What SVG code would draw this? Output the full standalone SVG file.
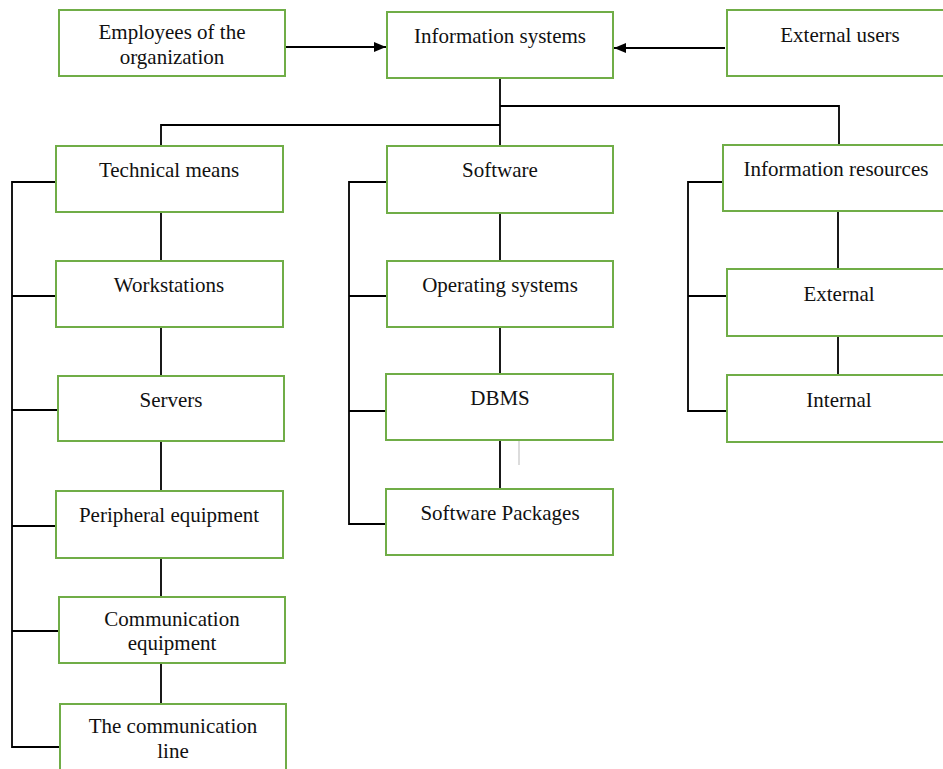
<svg xmlns="http://www.w3.org/2000/svg" width="943" height="769" viewBox="0 0 943 769">
<style>
.box rect{fill:#fff;stroke:#70AD47;stroke-width:2}
.box text{font-family:"Liberation Serif","Times New Roman",serif;font-size:21px;fill:#111;text-anchor:middle}
.ln{stroke:#000;stroke-width:1.8;fill:none}
</style>
<defs>
<marker id="ah" markerWidth="12" markerHeight="10" refX="12" refY="5" orient="auto" markerUnits="userSpaceOnUse">
<path d="M0,0 L12,5 L0,10 Z" fill="#000"/>
</marker>
</defs>
<rect width="943" height="769" fill="#fff"/>
<g id="connectors">
<line class="ln" x1="286" y1="47" x2="386" y2="47" marker-end="url(#ah)"/>
<line class="ln" x1="725" y1="48" x2="614" y2="48" marker-end="url(#ah)"/>
<polyline class="ln" points="500,78 500,146"/>
<polyline class="ln" points="500,125 161,125 161,146"/>
<polyline class="ln" points="500,106 839,106 839,145"/>
<polyline class="ln" points="56,182 12,182 12,747 60,747"/>
<line class="ln" x1="12" y1="296" x2="56" y2="296"/>
<line class="ln" x1="12" y1="410" x2="58" y2="410"/>
<line class="ln" x1="12" y1="526" x2="56" y2="526"/>
<line class="ln" x1="12" y1="631" x2="59" y2="631"/>
<line class="ln" x1="161" y1="212" x2="161" y2="261"/>
<line class="ln" x1="161" y1="327" x2="161" y2="376"/>
<line class="ln" x1="161" y1="441" x2="161" y2="491"/>
<line class="ln" x1="161" y1="558" x2="161" y2="597"/>
<line class="ln" x1="161" y1="663" x2="161" y2="704"/>
<polyline class="ln" points="387,182 349,182 349,524 386,524"/>
<line class="ln" x1="349" y1="296" x2="387" y2="296"/>
<line class="ln" x1="349" y1="411" x2="386" y2="411"/>
<line class="ln" x1="500" y1="213" x2="500" y2="261"/>
<line class="ln" x1="500" y1="327" x2="500" y2="374"/>
<line class="ln" x1="500" y1="440" x2="500" y2="489"/>
<line x1="519" y1="437" x2="519" y2="465" stroke="#d0d0d0" stroke-width="1.5"/>
<polyline class="ln" points="723,182 688,182 688,411 727,411"/>
<line class="ln" x1="688" y1="296" x2="727" y2="296"/>
<line class="ln" x1="838" y1="211" x2="838" y2="269"/>
<line class="ln" x1="838" y1="336" x2="838" y2="375"/>
</g>
<g id="employees" class="box"><rect x="59" y="10" width="226" height="66"/><text x="172" y="39">Employees of the</text><text x="172" y="64">organization</text></g>
<g id="information-systems" class="box"><rect x="387" y="12" width="226" height="66"/><text x="500" y="43">Information systems</text></g>
<g id="external-users" class="box"><rect x="727" y="10" width="226" height="66"/><text x="840" y="42">External users</text></g>
<g id="technical-means" class="box"><rect x="56" y="146" width="227" height="66"/><text x="169" y="177">Technical means</text></g>
<g id="software" class="box"><rect x="387" y="146" width="226" height="67"/><text x="500" y="177">Software</text></g>
<g id="information-resources" class="box"><rect x="723" y="145" width="226" height="66"/><text x="836" y="176">Information resources</text></g>
<g id="workstations" class="box"><rect x="56" y="261" width="227" height="66"/><text x="169" y="292">Workstations</text></g>
<g id="servers" class="box"><rect x="58" y="376" width="226" height="65"/><text x="171" y="407">Servers</text></g>
<g id="peripheral" class="box"><rect x="56" y="491" width="227" height="67"/><text x="169" y="522">Peripheral equipment</text></g>
<g id="communication-equipment" class="box"><rect x="59" y="597" width="226" height="66"/><text x="172" y="626">Communication</text><text x="172" y="650">equipment</text></g>
<g id="communication-line" class="box"><rect x="60" y="704" width="226" height="70"/><text x="173" y="733">The communication</text><text x="173" y="758">line</text></g>
<g id="operating-systems" class="box"><rect x="387" y="261" width="226" height="66"/><text x="500" y="292">Operating systems</text></g>
<g id="dbms" class="box"><rect x="386" y="374" width="227" height="66"/><text x="500" y="405">DBMS</text></g>
<g id="software-packages" class="box"><rect x="386" y="489" width="227" height="66"/><text x="500" y="520">Software Packages</text></g>
<g id="external" class="box"><rect x="727" y="269" width="226" height="67"/><text x="839" y="301">External</text></g>
<g id="internal" class="box"><rect x="727" y="375" width="226" height="67"/><text x="839" y="407">Internal</text></g>
</svg>
